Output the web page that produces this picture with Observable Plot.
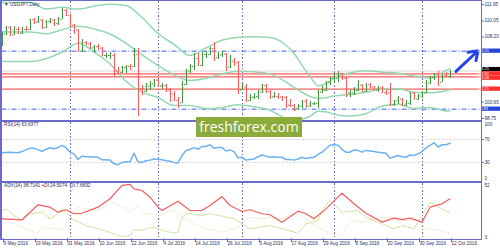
<!DOCTYPE html>
<html><head><meta charset="utf-8">
<script src="https://cdn.jsdelivr.net/npm/d3@7"></script>
<script src="https://cdn.jsdelivr.net/npm/@observablehq/plot@0.6"></script>
<style>
html,body{margin:0;padding:0;background:#fff;}
#chart{position:relative;width:500px;height:250px;overflow:hidden;background:#fff;}
.ln{position:absolute;background:#6a6ac8;}
#wm{position:absolute;left:196px;top:117px;width:106px;height:20px;background:#8bab3a;color:#fff;font-family:"Open Sans",sans-serif;font-size:14px;line-height:20px;text-align:center;z-index:5;}
</style></head><body><div id="chart"></div>
<script>
// ---------- data ----------
const open = [107.08,108.54,109.26,108.42,109.06,108.60,109.06,109.05,110.19,109.92,110.15,109.26,109.97,110.15,109.74,110.25,111.30,
110.70,109.55,108.98,106.55,107.55,107.37,106.91,107.10,106.90,106.05,106.05,106.05,104.25,104.10,104.65,104.80,104.75,106.15,102.20,101.90,102.50,102.75,
103.20,102.50,102.55,102.05,101.60,100.85,100.55,102.70,104.25,104.80,105.70,104.90,106.15,106.15,106.85,105.80,106.10,106.20,104.70,105.40,105.20,
102.05,102.40,100.85,101.20,101.30,101.80,102.55,101.85,101.25,101.30,101.25,101.20,100.30,100.25,99.90,100.20,100.75,100.20,100.45,100.50,101.80,102.00,102.95,
103.40,103.40,103.95,103.40,101.70,101.70,102.00,102.60,101.90,102.65,102.40,102.05,102.30,101.75,101.70,100.35,100.80,101.00,100.30,100.50,101.70,101.00,
101.35,101.70,102.85,103.50,103.95,102.95,103.70,103.60];
const high = [108.72,109.38,109.37,109.40,109.32,109.25,109.35,110.27,110.32,110.59,110.20,110.05,110.36,110.18,110.40,111.45,111.41,
110.75,109.65,109.10,107.90,107.68,107.50,107.25,107.29,107.00,106.30,106.35,106.30,104.60,104.80,104.90,105.00,106.80,106.85,102.60,102.75,103.05,103.25,
103.30,102.80,102.70,102.20,101.90,101.20,103.00,104.40,105.00,106.30,106.30,106.40,106.50,106.95,107.50,106.45,106.55,106.30,106.05,105.70,105.30,
102.90,102.70,101.55,101.70,102.05,102.65,102.65,101.95,101.80,101.60,101.35,101.25,101.00,100.40,100.40,100.85,100.90,100.70,100.65,102.05,102.40,103.00,103.50,
104.00,104.20,104.00,103.50,102.05,102.30,103.10,102.70,102.80,102.80,102.50,102.40,102.40,101.95,102.80,100.85,101.25,101.05,100.80,101.80,101.75,101.50,
101.85,103.10,103.60,104.00,104.15,103.80,104.05,104.30];
const low = [107.06,108.37,108.23,108.35,108.55,108.52,108.79,108.98,109.65,109.80,109.05,109.18,109.80,109.43,109.55,110.20,110.55,
109.30,108.50,106.52,106.35,107.15,106.75,106.25,106.60,105.95,105.65,105.60,103.55,103.90,103.95,104.00,104.30,104.60,99.00,101.45,101.75,102.05,102.30,
102.40,102.10,101.80,100.60,100.70,99.95,100.50,102.60,104.00,104.30,104.75,104.80,105.75,106.00,105.40,105.60,105.80,104.20,104.50,104.80,101.50,
102.00,100.65,100.70,100.90,100.95,101.70,101.70,100.95,101.10,100.90,100.70,99.90,100.00,99.55,99.70,99.95,99.95,100.05,100.25,99.90,101.70,101.85,102.60,
102.80,102.90,103.20,101.20,101.20,101.40,101.90,101.80,101.75,102.20,101.95,101.80,101.65,101.40,100.10,100.10,100.40,100.10,100.10,100.30,100.90,100.80,
101.05,101.60,102.70,103.20,102.50,102.90,103.50,103.40];
const close = [108.54,109.26,108.42,109.06,108.62,109.06,109.05,110.19,109.92,110.15,109.26,109.97,110.15,109.74,110.25,111.30,110.70,
109.55,108.98,106.55,107.55,107.37,106.91,107.10,106.95,106.05,106.05,106.05,104.25,104.10,104.65,104.80,104.75,106.15,102.20,101.90,102.50,102.75,103.20,
102.50,102.55,102.05,101.60,100.85,100.55,102.70,104.25,104.80,105.70,104.90,106.15,106.15,106.85,105.80,106.10,106.20,104.70,105.40,105.20,102.05,
102.40,100.85,101.20,101.30,101.80,102.55,101.85,101.25,101.30,101.25,101.20,100.30,100.25,99.90,100.20,100.75,100.20,100.45,100.50,101.80,102.00,102.95,103.40,
103.40,103.95,103.40,101.70,101.70,102.00,102.60,101.90,102.65,102.40,102.05,102.30,101.75,101.70,100.35,100.80,101.00,100.30,100.50,101.70,101.00,101.35,
101.70,102.85,103.50,103.95,102.95,103.70,103.60,104.25];

const bbIdx   = [0,3,7,11,15,19,23,27,31,35,39,43,47,51,55,59,63,67,71,73,75,77,79,81,83,87,91,95,99,103,107,111,112];
const bbUpper = [112.19,112.17,112.22,111.44,111.62,111.42,111.76,111.99,111.83,110.45,108.59,107.34,106.06,106.91,107.81,108.13,108.22,108.14,107.24,106.27,104.91,103.63,102.55,102.77,103.49,104.03,104.27,104.12,104.00,103.67,103.42,104.31,104.53];
const bbMid   = [108.79,108.76,108.78,108.56,109.02,109.44,109.12,108.53,107.45,106.13,104.89,103.80,103.16,103.41,103.91,104.23,104.16,103.92,102.98,102.35,101.79,101.31,101.07,101.15,101.37,101.53,101.79,102.16,102.20,101.79,101.72,101.97,102.07];
const bbLower = [105.39,105.35,105.34,105.68,106.42,107.46,106.48,105.07,103.07,101.81,101.19,100.26,100.26,99.91,100.01,100.33,100.10,99.70,98.72,98.43,98.67,98.99,99.59,99.53,99.25,99.03,99.31,100.20,100.40,99.91,100.02,99.63,99.61];

const rsiIdx = [0,2,4,5,7,8,9,10,11,12,13,14,15,16,17,18,19,20,21,22,24,25,27,28,29,30,31,32,33,34,35,36,37,38,39,40,41,42,43,44,45,46,47,48,49,50,51,52,53,54,55,56,57,58,59,60,61,62,63,64,65,66,67,68,69,70,71,72,73,74,75,76,77,78,79,80,81,82,83,84,85,86,87,88,89,90,91,92,93,94,95,96,97,98,99,100,101,102,103,104,105,106,107,108,109,110,111,112];
const rsiVal = [47,48,47,49,55,55,52,49.6,53,55.6,54,56,60,56,48,45,35,41,40,40,39,34.5,34,27.5,26,30,31,31,46,31,30,33,34,36,35,34.5,33,32,30,29,42,51,53,56,53,58,58,61,55,56,56,50,52,49,38,39,34,35,36,40,43,41,39,40,39,39,35,35,34,36,39,37,38,39,44,48,54,60,61,60,53,48,48,52,51,48,51,50,49,48,47,46,37.5,40,42,40,39,43,42,45,49,55.6,60,64.4,57,61,61,63.64];
const rsiLevels = [70, 30];

const adxIdx = [0,5,7,9,12,14,16,18,20,24,27,30,32,33,35,37,39,40,44,47,50,52,55,57,60,62,65,67,70,74,76,78,81,85,88,91,95,98,100,102,105,107,110,112];
const adxVal = [20.8,19.9,26.7,33.3,31.2,26.7,28.9,25.3,25.7,31.2,38.7,50.6,51.5,47.6,46.1,40.1,31.2,28.2,36.5,28.2,28.2,32.7,40.7,32.7,27.3,28.9,25.3,24.4,17.8,27.6,25.3,20.8,29.7,43.7,34.2,25.8,17.8,21.4,20,21.4,17.8,31.2,34.2,38.71];
const pdiIdx = [0,1,3,5,7,10,12,14,15,18,21,25,28,30,32,33,35,36,38,40,43,44,45,46,47,50,52,54,56,58,60,62,67,70,74,76,79,80,82,85,89,91,94,96,98,100,103,105,107,110,112];
const pdiVal = [28.2,29.7,23.8,19.3,25.3,26.7,20.8,25.3,29.7,19.9,14.8,11,7.4,5,5.9,11,10.5,11.9,13.3,10.4,8,8.8,22,25.3,25.8,23.8,25.3,24,22.2,20.8,16.3,11.9,14.8,11.9,8,16.3,19.3,28.2,37.2,26.7,28.2,22.2,17.8,14.8,11.9,14.8,11.9,23.8,35.6,29.7,26];
const mdiIdx = [0,3,7,9,10,13,15,17,19,21,24,27,30,32,34,36,40,41,43,45,48,51,55,58,60,62,65,67,70,73,75,79,82,85,87,90,95,98,100,104,106,109,112];
const mdiVal = [22.2,16.3,10.4,7.4,13.3,12,11,22.2,31.2,29.7,28.2,35.6,31.2,26.7,33,25.3,23.8,26.7,28.2,22.2,16.3,11.9,8.8,11.9,16.3,22.2,20.8,22,21,25.3,23,13.3,7.4,5.9,19.3,17.8,22.2,22.2,19.3,19.3,11.9,10.4,7.69];

const dateTickIdx = [0,8,16,24,32,40,48,56,64,72,80,88,96,104,112];
const dateLabels = ["9 May 2016","19 May 2016","31 May 2016","10 Jun 2016","22 Jun 2016","4 Jul 2016","14 Jul 2016","26 Jul 2016","5 Aug 2016","17 Aug 2016","29 Aug 2016","8 Sep 2016","20 Sep 2016","30 Sep 2016","12 Oct 2016"];
const monthStartIdx = [17,39,60,83,105];
const priceTicks = [111.95,110.05,108.20,100.65,98.75];
const redLevels = [103.92,103.58,102.15];
const blueLevels = [106.55,99.83];
const arrowFrom = [113.5,104.2];
const arrowTo = [119,106.6];
const titleText = "USDJPY,Daily";
const rsiText = "RSI(14) 63.6377";
const adxText = "ADX(14) 38.7141 +DI:24.5074 -DI:7.6892";
const watermark = "freshforex.com";

// ---------- styling ----------
const sepColor = "#6a6ac8", upColor = "#3f9a3f", downColor = "#ff5a5a", bandColor = "#93d8b1", textColor = "#2e2e5c";
const xDom = [0, 119.875];
const baseStyle = {background:"transparent", fontFamily:"'Liberation Sans', Arial, sans-serif", fontSize:"4.7px", color:textColor, overflow:"visible"};
function base(h, mt, mb){ return {width:500, height:h, marginLeft:1.5, marginRight:19, marginTop:mt, marginBottom:mb, style:baseStyle}; }
const sepMarks = () => Plot.ruleX(monthStartIdx, {x:d=>d, stroke:sepColor, strokeDasharray:"1.5,2", shapeRendering:"crispEdges"});

const bars = close.map((c,i)=>({i, o:open[i], h:high[i], l:low[i], c, col: c>=open[i]?upColor:downColor}));
const bands = bbIdx.map((i,k)=>({i, up:bbUpper[k], mid:bbMid[k], lo:bbLower[k]}));
const rsiRows = rsiIdx.map((i,k)=>({i, v:rsiVal[k]}));
const adxRows = adxIdx.map((i,k)=>({i, v:adxVal[k]}));
const pdiRows = pdiIdx.map((i,k)=>({i, v:pdiVal[k]}));
const mdiRows = mdiIdx.map((i,k)=>({i, v:mdiVal[k]}));
const bid = close[close.length-1];

const pricePlot = Plot.plot({
  ...base(120, 1, 0),
  x:{domain:xDom, axis:null},
  y:{domain:[98.52,112.30]},
  color:{type:"identity"},
  marks:[
    sepMarks(),
    Plot.ruleY([bid], {y:d=>d, stroke:"#d8d8d8"}),
    Plot.ruleY(blueLevels, {y:d=>d, stroke:"#3d5cf0", strokeDasharray:"5,2,1,2"}),
    Plot.ruleY(redLevels, {y:d=>d, stroke:"#ff5f5f", strokeWidth:1.2}),
    Plot.line(bands, {x:"i", y:"up", stroke:bandColor, curve:"monotone-x", clip:true}),
    Plot.line(bands, {x:"i", y:"mid", stroke:bandColor, curve:"monotone-x", clip:true}),
    Plot.line(bands, {x:"i", y:"lo", stroke:bandColor, curve:"monotone-x", clip:true}),
    Plot.ruleX(bars, {x:"i", y1:"l", y2:"h", stroke:"col", shapeRendering:"crispEdges"}),
    Plot.ruleY(bars, {y:"o", x1:d=>d.i-0.375, x2:"i", stroke:"col"}),
    Plot.ruleY(bars, {y:"c", x1:"i", x2:d=>d.i+0.375, stroke:"col"}),
    Plot.arrow([{a:arrowFrom, b:arrowTo}], {x1:d=>d.a[0], y1:d=>d.a[1], x2:d=>d.b[0], y2:d=>d.b[1], stroke:"#2247e6", strokeWidth:3, headLength:8, headAngle:70}),
    Plot.axisY({ticks:priceTicks, anchor:"right", tickFormat:d=>d.toFixed(2), tickSize:2, tickPadding:1, label:null, stroke:sepColor}),
    Plot.text([titleText], {text:d=>"\u25BC " + d, frameAnchor:"top-left", dx:2, dy:1.6, lineAnchor:"top", fill:textColor})
  ]
});

const rsiPlot = Plot.plot({
  ...base(59, 0, 2),
  x:{domain:xDom, axis:null},
  y:{domain:[0,100]},
  marks:[
    Plot.ruleY(rsiLevels, {y:d=>d, stroke:"#cccccc", strokeDasharray:"2,2"}),
    sepMarks(),
    Plot.line(rsiRows, {x:"i", y:"v", stroke:"#6cb2f2"}),
    Plot.axisY({ticks:rsiLevels, anchor:"right", tickSize:2, tickPadding:1, label:null, stroke:sepColor}),
    Plot.text([100], {y:d=>d, text:d=>String(d), frameAnchor:"right", dx:3, textAnchor:"start", lineAnchor:"top", fill:textColor}),
    Plot.text([0], {y:d=>d, text:d=>String(d), frameAnchor:"right", dx:3, textAnchor:"start", lineAnchor:"bottom", fill:textColor}),
    Plot.text([rsiText], {frameAnchor:"top-left", dx:2, dy:0.5, lineAnchor:"top", fill:textColor})
  ]
});

const adxPlot = Plot.plot({
  ...base(67, 0.4, 11.8),
  x:{domain:xDom},
  y:{domain:[3,52], axis:null},
  marks:[
    sepMarks(),
    Plot.line(mdiRows, {x:"i", y:"v", stroke:"#f0e2bf", strokeWidth:0.9, strokeDasharray:"1,1.6"}),
    Plot.line(pdiRows, {x:"i", y:"v", stroke:"#b2d46c", strokeWidth:0.9, strokeDasharray:"1,1.6"}),
    Plot.line(adxRows, {x:"i", y:"v", stroke:"#f25e5e", strokeWidth:1.2}),
    Plot.text([52], {y:d=>d, text:d=>String(d), frameAnchor:"right", dx:3, textAnchor:"start", lineAnchor:"top", fill:textColor}),
    Plot.text([3], {y:d=>d, text:d=>String(d), frameAnchor:"right", dx:3, textAnchor:"start", lineAnchor:"bottom", fill:textColor}),
    Plot.axisX({ticks:dateTickIdx, tickFormat:d=>dateLabels[dateTickIdx.indexOf(d)], tickSize:4, tickPadding:-1, textAnchor:"start", dx:1.5, label:null, stroke:sepColor}),
    Plot.text([adxText], {frameAnchor:"top-left", dx:2, dy:0, lineAnchor:"top", fill:textColor})
  ]
});

// price-label boxes on the right axis, positioned through the plot's own y scale,
// stacked so that neighbouring boxes do not cover each other
(function(){
  const ys = pricePlot.scale("y");
  const svg = d3.select(pricePlot);
  const boxes = [
    {v:blueLevels[0], fill:"#2747d8"},
    {v:bid, fill:"#000000"},
    {v:redLevels[0], fill:"#ff2d2d"},
    {v:redLevels[1], fill:"#ff2d2d"},
    {v:redLevels[2], fill:"#ff2d2d"},
    {v:blueLevels[1], fill:"#2747d8"}
  ].map(b=>({...b, y:ys.apply(b.v)})).sort((a,b)=>a.y-b.y);
  const h = 4.3;
  // group boxes that collide and spread each group around its mean position
  const groups = [];
  boxes.forEach(b=>{
    const g = groups[groups.length-1];
    if (g && b.y - g[g.length-1].y < h) g.push(b); else groups.push([b]);
  });
  groups.forEach(g=>{
    const m = d3.mean(g, d=>d.y);
    g.forEach((b,k)=>{ b.py = m + (k-(g.length-1)/2)*h; });
  });
  const g = svg.append("g").attr("font-size","3.9px");
  boxes.forEach(b=>{
    g.append("rect").attr("x",481.5).attr("y",b.py-h/2).attr("width",18.5).attr("height",h).attr("fill",b.fill);
    g.append("text").attr("x",483).attr("y",b.py).attr("dy","0.35em").attr("fill","#fff").text(b.v.toFixed(2));
  });
})();

const chart = document.getElementById("chart");
function place(node, top){ node.style.position="absolute"; node.style.left="0px"; node.style.top=top+"px"; chart.appendChild(node); }
place(pricePlot, 0);
place(rsiPlot, 122);
place(adxPlot, 183);
function line(l,t,w,h){ const d=document.createElement("div"); d.className="ln"; Object.assign(d.style,{left:l+"px",top:t+"px",width:w+"px",height:h+"px"}); chart.appendChild(d); }
line(0,0,481,1);
line(0,120,481,2);
line(0,181,481,2);
line(0,239,481,1);
line(0,0,1.5,240);
line(480.5,0,1,240);
const wm = document.createElement("div"); wm.id="wm"; wm.textContent = watermark; chart.appendChild(wm);
</script></body></html>
